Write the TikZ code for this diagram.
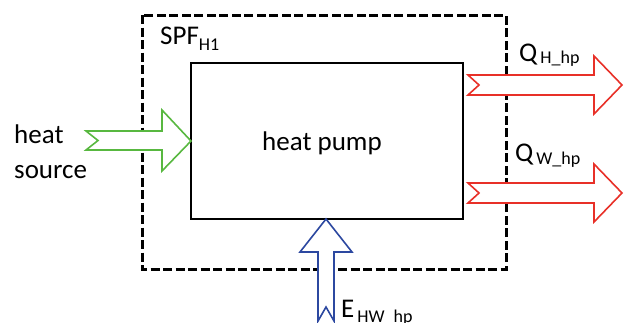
\documentclass[tikz,border=0pt]{standalone}
\usepackage{fontspec}
\setmainfont{Carlito}
\definecolor{garrow}{RGB}{88,184,64}
\definecolor{rarrow}{RGB}{232,48,40}
\definecolor{barrow}{RGB}{44,72,160}
\tikzset{
  flowarrow/.style={line width=1.6pt, line join=miter, fill=white},
  boundary/.style={line width=3pt, dash pattern=on 9pt off 3.5pt},
  hpbox/.style={draw, line width=1.5pt},
  lbl/.style={anchor=base west, inner sep=0pt, font=\fontsize{27}{35}\selectfont},
}
\newcommand{\subtxt}[2]{\raisebox{-#1pt}{\fontsize{18}{18}\selectfont #2}}
\begin{document}
\begin{tikzpicture}[x=1pt,y=-1pt]
\useasboundingbox (0,0) rectangle (624,322);
% system boundary
\draw[boundary] (142,15) rectangle (506,269);
% heat pump box
\node[hpbox, minimum width=272pt, minimum height=156pt, inner sep=0pt, anchor=north west] (hp) at (190,62) {};
\node[lbl] (hptxt) at (262,150) {heat pump};
% green input arrow
\draw[flowarrow, draw=garrow] (86,131) -- (162,131) -- (162,110) -- (191,141) -- (162,171) -- (162,150) -- (86,150) -- (98,140.5) -- cycle;
% red output arrows
\draw[flowarrow, draw=rarrow] (468,75) -- (594,75) -- (594,56) -- (622,85) -- (594,114) -- (594,95) -- (468,95) -- (479,85) -- cycle;
\draw[flowarrow, draw=rarrow] (468,183) -- (594,183) -- (594,164) -- (622,193) -- (594,222) -- (594,203) -- (468,203) -- (479,193) -- cycle;
% blue input arrow
\draw[flowarrow, draw=barrow] (326,219) -- (352,252) -- (334,252) -- (334,321) -- (326,307) -- (318,321) -- (318,252) -- (300,252) -- cycle;
% labels
\node[lbl] (src1) at (14,143) {heat};
\node[lbl] (src2) at (14,178) {source};
\node[lbl] (spf) at (160,44) {SPF\subtxt{6}{H1}};
\node[lbl] (qh) at (519,61) {Q\hspace{3pt}\subtxt{2}{H\_hp}};
\node[lbl] (qw) at (515,161) {Q\hspace{3pt}\subtxt{3}{W\_hp}};
\node[lbl] (e) at (341,317) {E\hspace{3pt}\subtxt{5}{HW\_hp}};
\end{tikzpicture}
\end{document}
